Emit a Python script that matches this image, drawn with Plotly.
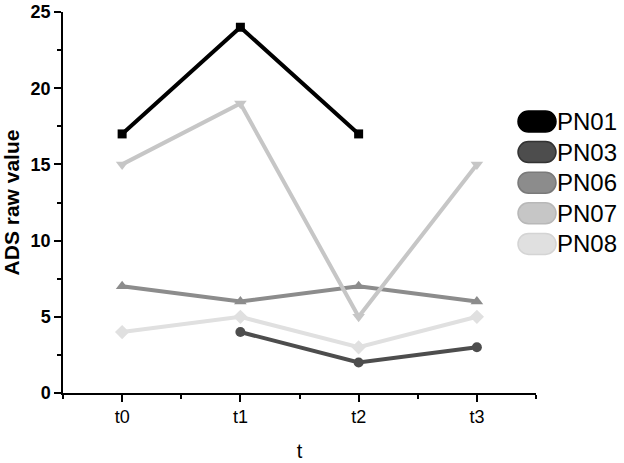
import plotly.graph_objects as go

timepoints = ["t0", "t1", "t2", "t3"]
x_pos = [0, 1, 2, 3]
series_names = ["PN01", "PN03", "PN06", "PN07", "PN08"]
pn01 = [17, 24, 17, None]
pn03 = [None, 4, 2, 3]
pn06 = [7, 6, 7, 6]
pn07 = [15, 19, 5, 15]
pn08 = [4, 5, 3, 5]
series_values = [pn01, pn03, pn06, pn07, pn08]
colors = ["#000000", "#4d4d4d", "#8c8c8c", "#c6c6c6", "#e0e0e0"]
borders = ["#000000", "#333333", "#7a7a7a", "#b8b8b8", "#d4d4d4"]
symbols = ["square", "circle", "triangle-up", "triangle-down", "diamond"]
widths = [4, 4, 4, 4, 4]
msizes = [9, 10, 11, 11, 11]

fig = go.Figure()
for name, vals, c, s, w, ms in zip(series_names, series_values, colors, symbols, widths, msizes):
    fig.add_trace(go.Scatter(
        x=x_pos, y=vals, mode="lines+markers", name=name,
        line=dict(color=c, width=w),
        marker=dict(symbol=s, size=ms, color=c),
        showlegend=False,
    ))

W, H = 624, 463
L, R, T, B = 63, 88, 12, 70
pw, ph = W - L - R, H - T - B

def px_to_paper(px, py):
    return (px - L) / pw, (H - B - py) / ph

def pill_path(w, h):
    r = h / 2
    hw = w / 2 - r
    k = 0.5523 * r
    return (f"M {-hw},{-r} L {hw},{-r} "
            f"C {hw + k},{-r} {hw + r},{-k} {hw + r},0 "
            f"C {hw + r},{k} {hw + k},{r} {hw},{r} "
            f"L {-hw},{r} "
            f"C {-hw - k},{r} {-hw - r},{k} {-hw - r},0 "
            f"C {-hw - r},{-k} {-hw - k},{-r} {-hw},{-r} Z")

shapes = []
annotations = []
leg_y0 = 121.5
leg_dy = 30.6
for i, (name, c, bc) in enumerate(zip(series_names, colors, borders)):
    cy = leg_y0 + i * leg_dy
    ax, ay = px_to_paper(537, cy)
    shapes.append(dict(
        type="path", xref="paper", yref="paper",
        xsizemode="pixel", ysizemode="pixel", xanchor=ax, yanchor=ay,
        path=pill_path(38, 21), fillcolor=c, line=dict(color=bc, width=1.5),
    ))
    tx, ty = px_to_paper(555, cy)
    annotations.append(dict(
        x=tx, y=ty, xref="paper", yref="paper", text=name, showarrow=False,
        xanchor="left", yanchor="middle", font=dict(size=24, color="black", family="Arial, Liberation Sans"),
    ))

fig.update_layout(
    width=W, height=H,
    margin=dict(l=L, r=R, t=T, b=B),
    plot_bgcolor="white", paper_bgcolor="white",
    font=dict(family="Arial, Liberation Sans", color="black"),
    shapes=shapes, annotations=annotations,
    showlegend=False,
    xaxis=dict(
        automargin=False,
        range=[-0.5, 3.5], tickvals=x_pos, ticktext=timepoints,
        showgrid=False, zeroline=False, showline=True, linecolor="black", linewidth=1.5,
        ticks="outside", ticklen=7, tickwidth=1.5, tickcolor="black",
        tickfont=dict(size=18),
        minor=dict(tickvals=[-0.5, 0.5, 1.5, 2.5, 3.5], ticks="outside", ticklen=4, tickwidth=1.5, tickcolor="black"),
        title=dict(text="t", font=dict(size=20), standoff=18),
    ),
    yaxis=dict(
        automargin=False,
        range=[0, 25], tickvals=[0, 5, 10, 15, 20, 25],
        showgrid=False, zeroline=False, showline=True, linecolor="black", linewidth=1.5,
        ticks="outside", ticklen=7, tickwidth=1.5, tickcolor="black",
        tickfont=dict(size=18, weight="bold"),
        minor=dict(tickvals=[2.5, 7.5, 12.5, 17.5, 22.5], ticks="outside", ticklen=4, tickwidth=1.5, tickcolor="black"),
        title=dict(text="<b>ADS raw value</b>", font=dict(size=21), standoff=5),
    ),
)

fig.write_html("out.html", config={"displayModeBar": False},
               post_script="document.body.style.margin='0';document.body.style.overflow='hidden';")
